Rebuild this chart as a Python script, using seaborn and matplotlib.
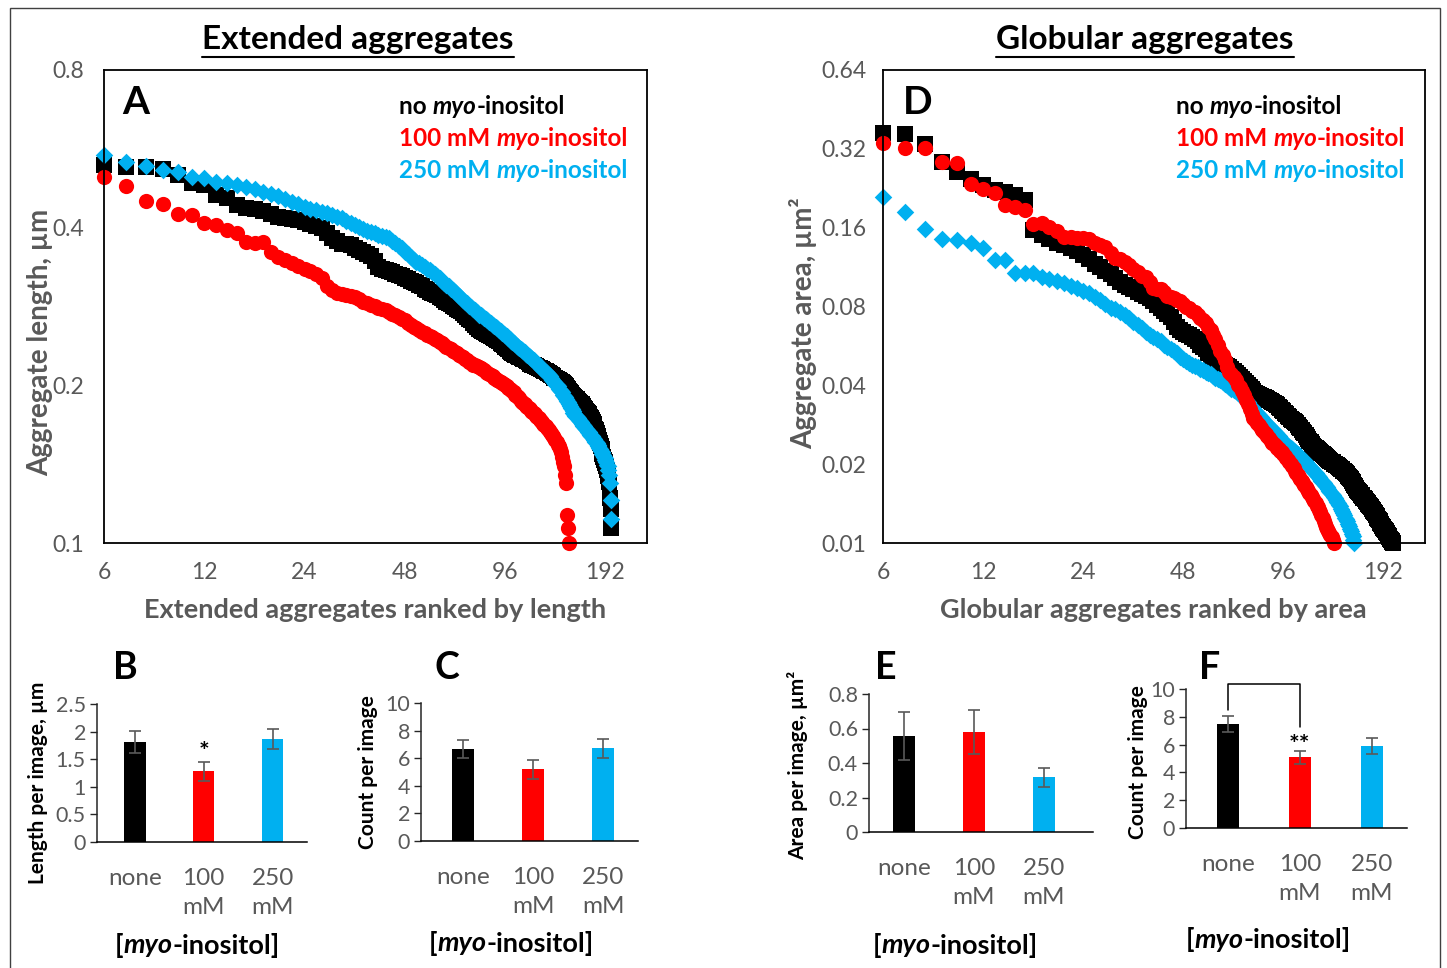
import numpy as np
import pandas as pd
import matplotlib
matplotlib.use("Agg")
import matplotlib.pyplot as plt
import seaborn as sns
from matplotlib.transforms import IdentityTransform
from matplotlib.lines import Line2D
from matplotlib.patches import Rectangle

# Ranked aggregate sizes; every list starts at rank 6 (first rank on the axis)
ext_none = [
    .527, .523, .523, .517, .504, .486, .482, .462, .455, .442,
    .437, .434, .430, .425, .420, .418, .416, .413, .410, .406,
    .403, .399, .390, .382, .377, .373, .372, .370, .365, .362,
    .360, .357, .353, .345, .336, .334, .332, .330, .329, .327,
    .325, .323, .321, .319, .317, .315, .313, .311, .309, .306,
    .304, .302, .300, .299, .297, .295, .293, .291, .289, .287,
    .286, .284, .282, .280, .279, .277, .275, .272, .270, .268,
    .266, .263, .261, .259, .256, .255, .254, .253, .252, .251,
    .250, .248, .247, .246, .245, .244, .243, .241, .240, .239,
    .237, .236, .235, .233, .232, .231, .230, .229, .229, .228,
    .227, .227, .226, .225, .225, .224, .223, .222, .220, .220,
    .219, .219, .218, .218, .217, .216, .216, .215, .215, .214,
    .213, .213, .212, .211, .211, .210, .209, .209, .208, .207,
    .207, .206, .205, .205, .204, .203, .203, .202, .201, .200,
    .199, .198, .197, .195, .194, .193, .192, .191, .191, .190,
    .189, .188, .188, .187, .186, .185, .184, .184, .183, .182,
    .181, .180, .179, .178, .177, .176, .175, .174, .173, .172,
    .170, .169, .167, .165, .164, .162, .160, .159, .157, .155,
    .153, .151, .148, .146, .144, .143, .142, .140, .138, .136,
    .134, .131, .122, .116, .107]
ext_100 = [
    .499, .481, .450, .444, .425, .423, .409, .405, .396, .391,
    .376, .374, .375, .360, .352, .347, .342, .338, .334, .330,
    .326, .321, .310, .304, .300, .299, .297, .296, .295, .292,
    .289, .287, .285, .283, .281, .280, .278, .276, .274, .272,
    .270, .268, .266, .263, .261, .259, .257, .255, .253, .252,
    .250, .248, .247, .245, .244, .242, .241, .239, .237, .236,
    .235, .233, .232, .231, .229, .228, .227, .225, .224, .222,
    .221, .219, .219, .218, .217, .216, .215, .214, .212, .211,
    .210, .209, .208, .207, .206, .205, .204, .203, .202, .201,
    .200, .199, .198, .197, .196, .195, .194, .192, .191, .190,
    .189, .187, .186, .185, .184, .183, .182, .181, .180, .179,
    .178, .177, .176, .175, .174, .173, .172, .171, .170, .169,
    .168, .167, .166, .165, .164, .163, .162, .161, .160, .159,
    .157, .156, .154, .153, .151, .149, .146, .143, .140, .135,
    .130, .113, .107, .100]
ext_250 = [
    .550, .534, .524, .515, .511, .500, .497, .489, .486, .482,
    .479, .474, .468, .463, .459, .454, .448, .443, .438, .435,
    .432, .429, .426, .423, .420, .417, .412, .408, .405, .402,
    .398, .395, .393, .390, .388, .386, .384, .382, .378, .374,
    .369, .365, .360, .356, .351, .347, .344, .342, .339, .337,
    .334, .332, .329, .326, .323, .320, .317, .314, .311, .309,
    .306, .304, .301, .299, .296, .294, .291, .289, .287, .284,
    .282, .280, .278, .276, .273, .272, .271, .269, .268, .266,
    .264, .263, .261, .260, .258, .257, .255, .254, .252, .251,
    .249, .248, .246, .245, .243, .242, .241, .240, .238, .237,
    .236, .235, .234, .233, .232, .230, .229, .228, .227, .226,
    .225, .224, .222, .221, .220, .219, .218, .216, .215, .214,
    .213, .212, .211, .210, .209, .208, .207, .205, .204, .203,
    .201, .200, .199, .197, .196, .195, .194, .192, .191, .190,
    .188, .187, .186, .184, .183, .181, .180, .179, .177, .176,
    .175, .175, .174, .173, .172, .171, .170, .169, .168, .167,
    .167, .166, .165, .164, .163, .163, .162, .161, .160, .160,
    .159, .158, .157, .156, .156, .155, .154, .153, .152, .151,
    .150, .149, .148, .147, .146, .145, .144, .143, .141, .140,
    .138, .135, .130, .121, .111]

glob_none = [
    .369, .365, .334, .284, .262, .245, .233, .223, .218, .213,
    .204, .157, .150, .145, .140, .137, .134, .130, .126, .121,
    .116, .113, .109, .106, .103, .099, .097, .095, .093, .091,
    .089, .088, .086, .084, .081, .079, .077, .075, .073, .070,
    .067, .065, .064, .063, .062, .061, .060, .059, .057, .056,
    .055, .053, .052, .050, .049, .0488, .0485, .0482, .0480, .0476,
    .0472, .0463, .0455, .0446, .0438, .0430, .0422, .0415, .0408, .0401,
    .0394, .0387, .0380, .0374, .0371, .0368, .0365, .0362, .0360, .0357,
    .0355, .0352, .0349, .0346, .0343, .0340, .0336, .0332, .0328, .0323,
    .0318, .0314, .0310, .0306, .0302, .0298, .0295, .0292, .0289, .0286,
    .0282, .0278, .0274, .0270, .0266, .0262, .0258, .0254, .0250, .0246,
    .0242, .0238, .0235, .0233, .0231, .0229, .0227, .0225, .0223, .0221,
    .0219, .0217, .0215, .0213, .0211, .0209, .0207, .0206, .0204, .0203,
    .0201, .0200, .0199, .0198, .0196, .0195, .0194, .0192, .0191, .0189,
    .0188, .0186, .0185, .0183, .0181, .0179, .0177, .0175, .0173, .0171,
    .0169, .0167, .0165, .0162, .0160, .0158, .0156, .0155, .0153, .0152,
    .0151, .0149, .0148, .0147, .0145, .0144, .0142, .0141, .0140, .0138,
    .0137, .0135, .0134, .0133, .0131, .0130, .0128, .0127, .0125, .0124,
    .0122, .0121, .0119, .0118, .0116, .0115, .0114, .0113, .0112, .0111,
    .0110, .0109, .0107, .0106, .0105, .0104, .0103, .0102, .0101, .0100]
glob_100 = [
    .336, .322, .322, .284, .282, .235, .225, .217, .196, .192,
    .187, .165, .167, .161, .156, .148, .147, .146, .146, .145,
    .140, .137, .135, .128, .123, .121, .118, .115, .111, .108,
    .105, .104, .099, .094, .093, .093, .091, .088, .087, .086,
    .085, .084, .082, .080, .079, .077, .076, .074, .072, .071,
    .069, .067, .065, .062, .060, .057, .054, .052, .050, .047,
    .045, .044, .043, .042, .040, .0395, .0380, .0366, .0353, .0340,
    .0326, .0312, .0300, .0294, .0288, .0282, .0276, .0271, .0266, .0261,
    .0256, .0251, .0246, .0241, .0238, .0234, .0231, .0228, .0225, .0222,
    .0219, .0215, .0211, .0207, .0204, .0200, .0196, .0193, .0189, .0185,
    .0182, .0179, .0176, .0173, .0170, .0167, .0164, .0161, .0158, .0155,
    .0152, .0150, .0147, .0145, .0142, .0139, .0137, .0134, .0131, .0128,
    .0125, .0121, .0118, .0115, .0113, .0111, .0109, .0107, .0105, .0103,
    .0100]
glob_250 = [
    .209, .183, .158, .145, .143, .140, .134, .120, .120, .107,
    .107, .107, .104, .102, .100, .098, .096, .094, .092, .090,
    .087, .085, .082, .079, .078, .076, .074, .072, .070, .068,
    .066, .064, .062, .061, .060, .059, .057, .056, .055, .054,
    .053, .0515, .0505, .0495, .0487, .0480, .0474, .0468, .0462, .0456,
    .0450, .0446, .0440, .0434, .0428, .0423, .0418, .0412, .0406, .0400,
    .0395, .0389, .0384, .0379, .0373, .0368, .0363, .0358, .0353, .0345,
    .0335, .0330, .0324, .0318, .0313, .0307, .0302, .0297, .0292, .0288,
    .0284, .0280, .0276, .0271, .0267, .0263, .0259, .0256, .0252, .0248,
    .0244, .0240, .0237, .0235, .0233, .0230, .0228, .0225, .0223, .0220,
    .0218, .0215, .0213, .0210, .0208, .0205, .0203, .0200, .0198, .0196,
    .0194, .0191, .0189, .0187, .0185, .0182, .0180, .0178, .0176, .0173,
    .0171, .0169, .0167, .0165, .0163, .0161, .0158, .0156, .0154, .0152,
    .0150, .0148, .0146, .0144, .0142, .0140, .0138, .0135, .0133, .0130,
    .0128, .0125, .0123, .0121, .0118, .0116, .0113, .0111, .0108, .0106,
    .0103, .0100]

rank_ticks = [6, 12, 24, 48, 96, 192]
length_ticks = [0.1, 0.2, 0.4, 0.8]
area_ticks = [0.01, 0.02, 0.04, 0.08, 0.16, 0.32, 0.64]

# Per-image bar values (mean, sem)
conditions = ["none", "100\nmM", "250\nmM"]
length_per_image = [1.81, 1.28, 1.87]
length_err = [0.20, 0.17, 0.18]
ext_count = [6.65, 5.2, 6.72]
ext_count_err = [0.67, 0.70, 0.67]
area_per_image = [0.556, 0.58, 0.318]
area_err = [0.14, 0.128, 0.055]
glob_count = [7.5, 5.1, 5.9]
glob_count_err = [0.58, 0.47, 0.60]

W, H = 1447, 968
BLACK, RED, BLUE = "#000000", "#FF0000", "#00B0F0"
GREY = "#595959"
bar_colors = [BLACK, RED, BLUE]

sns.set_theme(style="white")
plt.rcParams["font.family"] = ["Lato", "DejaVu Sans"]

fig = plt.figure(figsize=(W / 100, H / 100), dpi=100)
renderer = fig.canvas.get_renderer()


def axes_px(left, top, right, bottom):
    return fig.add_axes([left / W, 1 - bottom / H, (right - left) / W, (bottom - top) / H])


def text_px(x, y, s, **kw):
    return fig.text(x, H - y, s, transform=IdentityTransform(), **kw)


def mixed_text(x, y, parts, size, color, ha="left"):
    # bold text where some words are italic; widths measured between pipes so spaces count
    def advance(s, italic):
        kw = dict(fontsize=size, fontweight="bold", fontstyle="italic" if italic else "normal")
        a = fig.text(0, 0, "|" + s + "|", **kw)
        b = fig.text(0, 0, "||", **kw)
        w = a.get_window_extent(renderer).width - b.get_window_extent(renderer).width
        a.remove()
        b.remove()
        return w
    widths = [advance(s, it) for s, it in parts]
    x0 = x - sum(widths) / 2 if ha == "center" else x
    for (s, it), w in zip(parts, widths):
        text_px(x0, y, s, fontsize=size, fontweight="bold", fontstyle="italic" if it else "normal",
                color=color, ha="left", va="center")
        x0 += w


def rank_panel(ax, series, ylim, yticks, ypad):
    for vals, color, marker, size in series:
        df = pd.DataFrame({"rank": np.arange(6, 6 + len(vals)), "value": vals})
        sns.scatterplot(data=df, x="rank", y="value", color=color, marker=marker, s=size,
                        linewidth=0, clip_on=False, ax=ax)
    ax.set_xscale("log", base=2)
    ax.set_yscale("log", base=2)
    ax.set_xlim(6, 256)
    ax.set_ylim(*ylim)
    ax.set_xticks(rank_ticks, [str(t) for t in rank_ticks])
    ax.set_yticks(yticks, [f"{t:g}" for t in yticks])
    ax.minorticks_off()
    ax.set_xlabel("")
    ax.set_ylabel("")
    ax.tick_params(length=0, labelsize=16.5, labelcolor=GREY)
    ax.tick_params(axis="x", pad=14)
    ax.tick_params(axis="y", pad=ypad)
    for sp in ax.spines.values():
        sp.set_visible(True)
        sp.set_color("black")
        sp.set_linewidth(1.3)


def bar_panel(ax, vals, errs, ylim, yticks, xlim):
    df = pd.DataFrame({"cond": conditions, "value": vals})
    sns.barplot(data=df, x="cond", y="value", hue="cond", palette=bar_colors, width=0.31,
                saturation=1, errorbar=None, legend=False, linewidth=0, ax=ax)
    ax.errorbar(np.arange(3), vals, yerr=errs, fmt="none", ecolor=GREY, elinewidth=1.2,
                capsize=4, capthick=1.2)
    ax.set_ylim(*ylim)
    ax.set_yticks(yticks, [f"{t:g}" for t in yticks])
    ax.set_xlim(*xlim)
    ax.set_xlabel("")
    ax.set_ylabel("")
    ax.spines["top"].set_visible(False)
    ax.spines["right"].set_visible(False)
    ax.spines["left"].set_color("#262626")
    ax.spines["bottom"].set_color("black")
    ax.spines["left"].set_linewidth(1.1)
    ax.spines["bottom"].set_linewidth(1.1)
    ax.tick_params(axis="y", left=True, length=5, width=1, color="#262626", labelsize=15.5,
                   labelcolor=GREY, pad=3)
    ax.tick_params(axis="x", length=0, labelsize=17.5, labelcolor=GREY, pad=19)
    for lab in ax.get_xticklabels():
        lab.set_linespacing(1.45)


# Panel A: extended aggregates ranked by length
axA = axes_px(104, 70, 647, 543)
rank_panel(axA, [(ext_none, BLACK, "s", 125), (ext_250, BLUE, "D", 80), (ext_100, RED, "o", 120)],
           (0.1, 0.8), length_ticks, 14)

# Panel D: globular aggregates ranked by area
axD = axes_px(883, 70, 1425, 543)
rank_panel(axD, [(glob_none, BLACK, "s", 125), (glob_250, BLUE, "D", 80), (glob_100, RED, "o", 120)],
           (0.01, 0.64), area_ticks, 12)

# Bar panels
axB = axes_px(97, 704, 307, 842)
bar_panel(axB, length_per_image, length_err, (0, 2.5), [0, 0.5, 1, 1.5, 2, 2.5], (-0.55, 2.5))
axC = axes_px(421, 703, 638, 841)
bar_panel(axC, ext_count, ext_count_err, (0, 10), [0, 2, 4, 6, 8, 10], (-0.6, 2.5))
axE = axes_px(869, 694, 1093, 832)
bar_panel(axE, area_per_image, area_err, (0, 0.8), [0, 0.2, 0.4, 0.6, 0.8], (-0.5, 2.7))
axF = axes_px(1186, 689, 1407, 828)
bar_panel(axF, glob_count, glob_count_err, (0, 10), [0, 2, 4, 6, 8, 10], (-0.58, 2.49))

# significance marks
axB.text(1, 1.62, "*", ha="center", va="center", fontsize=18, fontweight="bold", color=BLACK)
axF.text(1, 5.95, "**", ha="center", va="center", fontsize=18, fontweight="bold", color=BLACK)
axF.plot([0, 0, 1, 1], [8.5, 10.35, 10.35, 7.3], color=BLACK, lw=1.1, clip_on=False)

# Titles with underline
for cx, title in [(358, "Extended aggregates"), (1145, "Globular aggregates")]:
    t = text_px(cx, 40, title, fontsize=24, fontweight="bold", ha="center", va="center", color=BLACK)
    bb = t.get_window_extent(renderer)
    fig.add_artist(Line2D([bb.x0, bb.x1], [H - 57, H - 57], transform=IdentityTransform(),
                          color=BLACK, lw=1.5))

# Panel letters
for x, y, letter, size in [(136, 103, "A", 28), (918, 103, "D", 28), (125, 668, "B", 27),
                           (447, 668, "C", 27), (886, 668, "E", 27), (1210, 668, "F", 27)]:
    text_px(x, y, letter, fontsize=size, fontweight="bold", ha="center", va="center", color=BLACK)

# Series legends written as text
for lx in (399, 1176):
    mixed_text(lx, 107, [("no ", False), ("myo", True), ("-inositol", False)], 17.5, BLACK)
    mixed_text(lx, 139, [("100 mM ", False), ("myo", True), ("-inositol", False)], 17.5, RED)
    mixed_text(lx, 170, [("250 mM ", False), ("myo", True), ("-inositol", False)], 17.5, BLUE)

# Axis labels
text_px(375, 610, "Extended aggregates ranked by length", fontsize=19.5, fontweight="bold",
        color=GREY, ha="center", va="center")
text_px(1153, 610, "Globular aggregates ranked by area", fontsize=19.5, fontweight="bold",
        color=GREY, ha="center", va="center")
text_px(40, 342, "Aggregate length, µm", fontsize=20, fontweight="bold", color=GREY,
        rotation=90, ha="center", va="center")
text_px(803, 323, "Aggregate area, µm²", fontsize=20, fontweight="bold", color=GREY,
        rotation=90, ha="center", va="center")
for x, y, lab in [(38, 783, "Length per image, µm"), (368, 772, "Count per image"),
                  (798, 765, "Area per image, µm²"), (1138, 762, "Count per image")]:
    text_px(x, y, lab, fontsize=15, fontweight="bold", color=BLACK, rotation=90,
            ha="center", va="center")
for x, y in [(197, 945), (511, 943), (955, 945), (1268, 940)]:
    mixed_text(x, y, [("[", False), ("myo", True), ("-inositol]", False)], 19.5, BLACK, ha="center")

# thin frame round the figure
fig.add_artist(Rectangle((10, -10), 1430, H - 8 + 10, transform=IdentityTransform(), fill=False,
                         edgecolor="#404040", lw=1))

fig.savefig("out.png", dpi=100)
